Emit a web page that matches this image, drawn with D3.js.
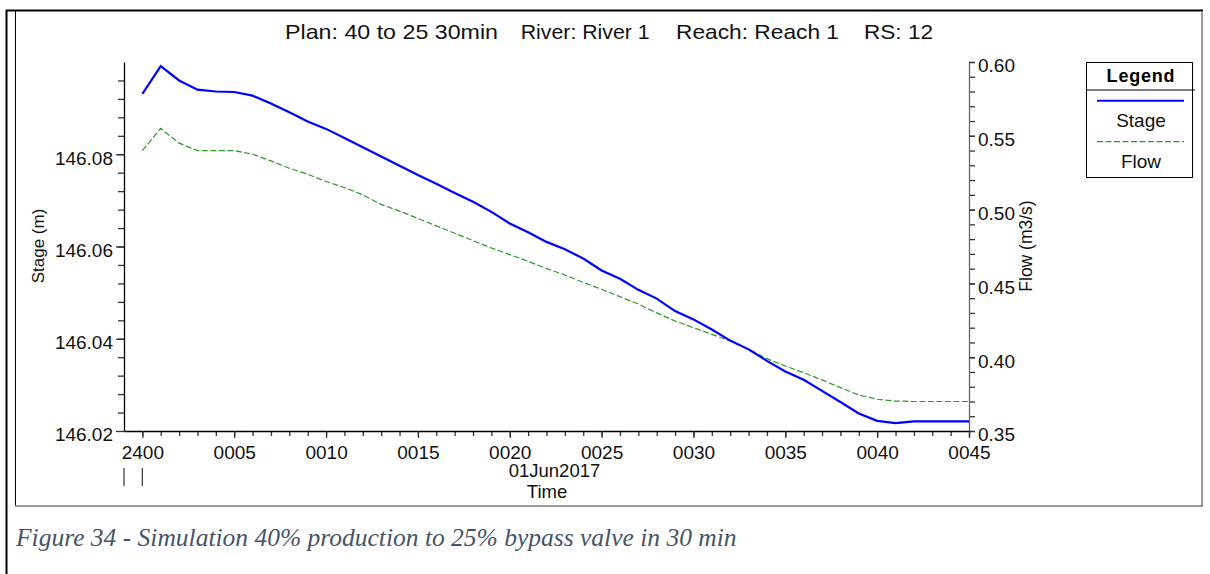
<!DOCTYPE html>
<html><head><meta charset="utf-8">
<script src="https://cdn.jsdelivr.net/npm/d3@7"></script>
<style>
html,body{margin:0;padding:0;background:#fff;}
</style></head>
<body>
<svg id="chart" width="1210" height="574" font-family="'Liberation Sans',Arial,sans-serif"></svg>
<script>
// ---- data ----
const minutes = [0,1,2,3,4,5,6,7,8,9,10,11,12,13,14,15,16,17,18,19,20,21,22,23,24,25,26,27,28,29,30,31,32,33,34,35,36,37,38,39,40,41,42,43,44,45];
const stage = [146.0931,146.0991,146.0960,146.0940,146.0936,146.0935,146.0927,146.0910,146.0891,146.0871,
               146.0855,146.0835,146.0815,146.0795,146.0775,146.0755,146.0736,146.0716,146.0697,146.0675,
               146.0650,146.0631,146.0610,146.0594,146.0574,146.0548,146.0530,146.0506,146.0487,146.0460,
               146.0442,146.0420,146.0396,146.0377,146.0352,146.0329,146.0311,146.0287,146.0263,146.0238,
               146.0222,146.0217,146.0221,146.0221,146.0221,146.0221];
const flow = [0.540,0.555,0.545,0.540,0.540,0.540,0.5375,0.533,0.528,0.524,
              0.519,0.515,0.510,0.5035,0.499,0.494,0.489,0.484,0.479,0.474,
              0.4695,0.465,0.460,0.4557,0.4507,0.446,0.441,0.436,0.430,0.4245,
              0.420,0.4155,0.411,0.4055,0.399,0.394,0.3895,0.3846,0.3794,0.3744,
              0.3715,0.3703,0.370,0.370,0.370,0.370];
const xTickMinutes = [0,5,10,15,20,25,30,35,40,45];
const xTickLabels = ["2400","0005","0010","0015","0020","0025","0030","0035","0040","0045"];
const stageTicks = [146.02,146.04,146.06,146.08];
const flowTicks = [0.35,0.40,0.45,0.50,0.55,0.60];
const dayMarks = [-1,0];
const titleParts = ["Plan: 40 to 25 30min","River: River 1","Reach: Reach 1","RS: 12"];
const seriesNames = ["Stage","Flow"];
const dateLabel = "01Jun2017";
const caption = "Figure 34 - Simulation 40% production to 25% bypass valve in 30 min";

// ---- layout ----
const svg = d3.select("#chart");
const L = 124, R = 969, T = 62, B = 431;
const x = d3.scaleLinear().domain([-1,45]).range([L,R]);
const yS = d3.scaleLinear().domain([146.02,146.10]).range([B,T]);
const yF = d3.scaleLinear().domain([0.35,0.60]).range([B,T]);

// frame
svg.append("line").attr("x1",6).attr("x2",1203).attr("y1",10.5).attr("y2",10.5).attr("stroke","#000").attr("stroke-width",2);
svg.append("line").attr("x1",6.5).attr("x2",6.5).attr("y1",10).attr("y2",574).attr("stroke","#000").attr("stroke-width",2);
svg.append("line").attr("x1",15.5).attr("x2",15.5).attr("y1",11).attr("y2",506).attr("stroke","#000").attr("stroke-width",1);
svg.append("line").attr("x1",15).attr("x2",1203).attr("y1",506).attr("y2",506).attr("stroke","#777").attr("stroke-width",1.5);
svg.append("line").attr("x1",1202).attr("x2",1202).attr("y1",11).attr("y2",506).attr("stroke","#777").attr("stroke-width",1.5);

// title
const titleX = [285,520.7,676,864], titleW = [213,129,163,69];
const tt = svg.append("text").attr("y",39).attr("font-size",21).attr("fill","#111");
titleParts.forEach((t,i)=>{
  tt.append("tspan").attr("x",titleX[i]).attr("textLength",titleW[i]).attr("lengthAdjust","spacingAndGlyphs").text(t);
});

// axes
const fs = 19;
function styleAxis(g, color){
  g.attr("font-family",null).attr("font-size",null);
  g.select(".domain").attr("stroke",color).attr("stroke-width",1.3);
  g.selectAll(".tick line").attr("stroke","#333").attr("stroke-width",1.3);
  g.selectAll(".tick text").attr("font-size",fs).attr("fill","#111");
}
function minorStyle(g){
  g.select(".domain").remove();
  g.selectAll(".tick line").attr("stroke","#333").attr("stroke-width",1.3);
}
// left minor
const stageMinor = d3.range(0,20).map(i=>+(146.024+i*0.004).toFixed(3)).filter(v=>v<146.099);
svg.append("g").attr("transform",`translate(${L},0)`).call(d3.axisLeft(yS).tickValues(stageMinor).tickSize(6).tickFormat("")).call(minorStyle);
const gL = svg.append("g").attr("transform",`translate(${L},0)`)
  .call(d3.axisLeft(yS).tickValues(stageTicks).tickFormat(d3.format(".2f")).tickSize(8).tickPadding(3).tickSizeOuter(0));
styleAxis(gL,"#000");
gL.selectAll(".tick text").attr("dy","0.52em");

// right
const flowMinor = d3.range(0,26).map(i=>+(0.35+i*0.01).toFixed(2));
svg.append("g").attr("transform",`translate(${R},0)`).call(d3.axisRight(yF).tickValues(flowMinor).tickSize(6).tickFormat("")).call(minorStyle);
const gR = svg.append("g").attr("transform",`translate(${R},0)`)
  .call(d3.axisRight(yF).tickValues(flowTicks).tickFormat(d3.format(".2f")).tickSize(6).tickPadding(3).tickSizeOuter(0));
styleAxis(gR,"#666");
gR.selectAll(".tick text").attr("dy","0.52em");

// bottom
svg.append("g").attr("transform",`translate(0,${B})`).call(d3.axisBottom(x).tickValues(minutes).tickSize(5).tickFormat("")).call(minorStyle);
const gB = svg.append("g").attr("transform",`translate(0,${B})`)
  .call(d3.axisBottom(x).tickValues(xTickMinutes).tickFormat((d,i)=>xTickLabels[i]).tickSize(7).tickPadding(7.5).tickSizeOuter(0));
styleAxis(gB,"#000");

// day boundary marks
svg.append("g").selectAll("line").data(dayMarks).join("line")
  .attr("x1",d=>x(d)).attr("x2",d=>x(d)).attr("y1",468).attr("y2",486)
  .attr("stroke","#444").attr("stroke-width",1.3);

svg.append("text").attr("x",554.5).attr("y",476.5).attr("text-anchor","middle").attr("font-size",18.5).attr("fill","#111").text(dateLabel);
svg.append("text").attr("x",547).attr("y",498).attr("text-anchor","middle").attr("font-size",18.5).attr("fill","#111").text("Time");

// axis titles
svg.append("text").attr("transform",`translate(44,246) rotate(-90)`).attr("text-anchor","middle").attr("font-size",17).attr("fill","#111").text("Stage (m)");
svg.append("text").attr("transform",`translate(1032,246) rotate(-90)`).attr("text-anchor","middle").attr("font-size",17.5).attr("fill","#111").text("Flow (m3/s)");

// lines
const lineS = d3.line().x((d,i)=>x(minutes[i])).y(d=>yS(d));
const lineF = d3.line().x((d,i)=>x(minutes[i])).y(d=>yF(d));
svg.append("path").datum(flow).attr("d",lineF).attr("fill","none").attr("stroke","#2a982a").attr("stroke-width",1.2).attr("stroke-dasharray","6,2.5");
svg.append("path").datum(stage).attr("d",lineS).attr("fill","none").attr("stroke","#0000ff").attr("stroke-width",2.2);

// legend
const lg = svg.append("g");
lg.append("rect").attr("x",1086.5).attr("y",62.5).attr("width",106).attr("height",115).attr("fill","#fff").attr("stroke","#000").attr("stroke-width",1);
lg.append("line").attr("x1",1086).attr("x2",1195).attr("y1",90).attr("y2",90).attr("stroke","#000").attr("stroke-width",1);
lg.append("text").attr("x",1141).attr("y",82).attr("text-anchor","middle").attr("font-size",18).attr("font-weight","bold").attr("letter-spacing","0.8").attr("fill","#000").text("Legend");
const legColors = ["#0000ff","#2a982a"], legDash = [null,"6,2.5"], legWidth=[2,1.2];
seriesNames.forEach((n,i)=>{
  const yy = 100.7 + i*41;
  lg.append("line").attr("x1",1097).attr("x2",1184).attr("y1",yy).attr("y2",yy).attr("stroke",legColors[i]).attr("stroke-width",legWidth[i]).attr("stroke-dasharray",legDash[i]);
  lg.append("text").attr("x",1141).attr("y",yy+26).attr("text-anchor","middle").attr("font-size",19).attr("fill","#111").text(n);
});

// caption
svg.append("text").attr("x",16).attr("y",546).attr("font-size",25.5).attr("font-style","italic")
  .attr("font-family","'Liberation Serif','Times New Roman',serif").attr("fill","#44546A").text(caption);
</script>
</body></html>
